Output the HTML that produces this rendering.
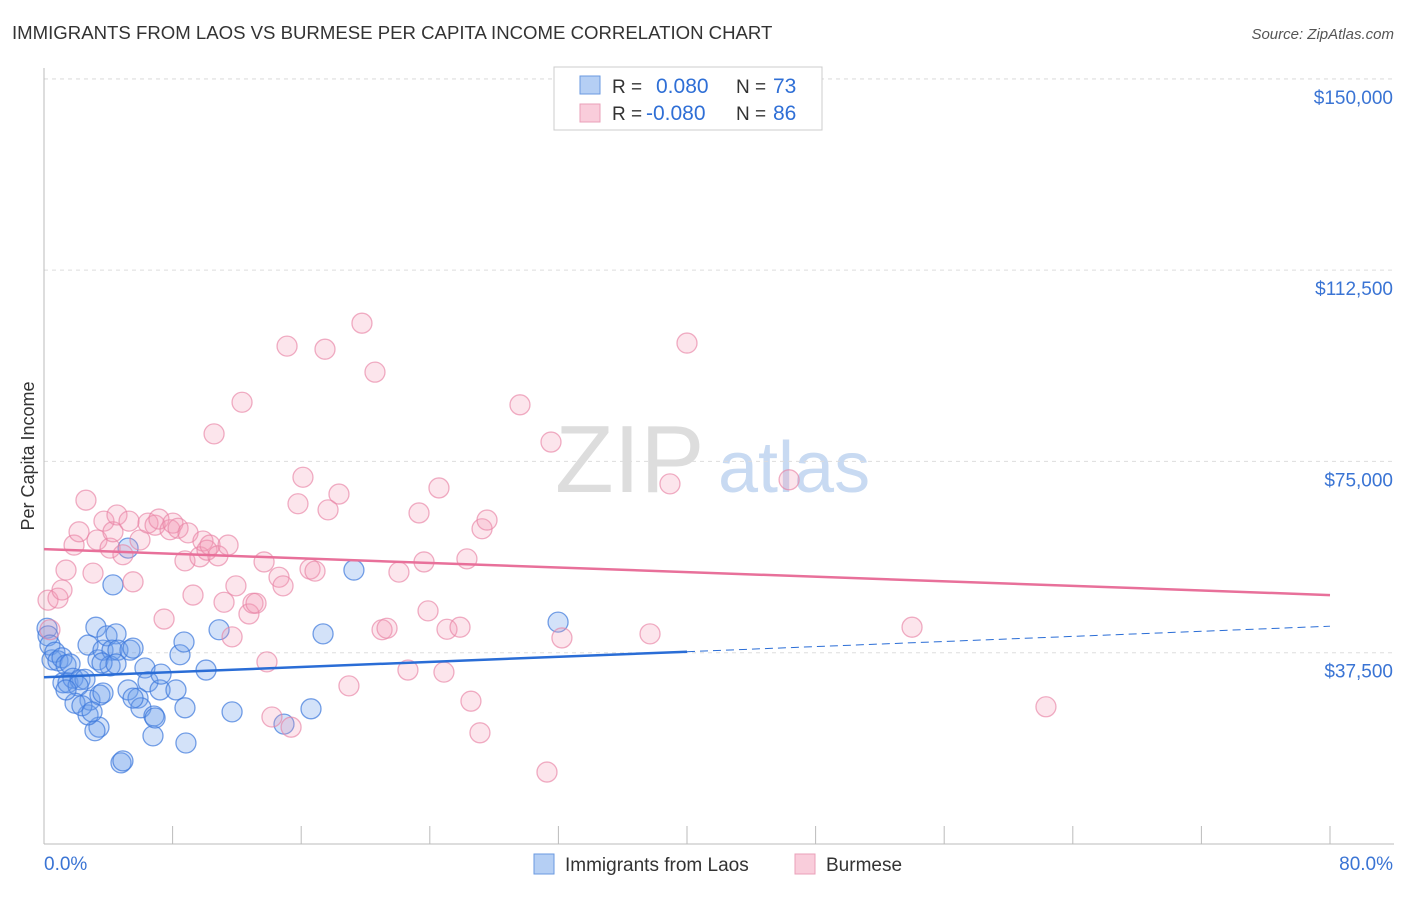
<!DOCTYPE html>
<html><head><meta charset="utf-8"><style>
body{margin:0;background:#fff;font-family:"Liberation Sans",sans-serif;}
svg text{font-family:"Liberation Sans",sans-serif;}
</style></head><body>
<svg id="chart" width="1406" height="892">
<text x="12" y="39" font-size="18.6" fill="#333">IMMIGRANTS FROM LAOS VS BURMESE PER CAPITA INCOME CORRELATION CHART</text>
<text x="1394" y="39" font-size="15" fill="#555" font-style="italic" text-anchor="end">Source: ZipAtlas.com</text>
<text x="34" y="456" font-size="18" fill="#333" transform="rotate(-90 34 456)" text-anchor="middle">Per Capita Income</text>
<text x="555" y="492" font-size="96" fill="#ddd" font-family="Liberation Serif">ZIP</text>
<text x="718" y="492" font-size="72" fill="#c8daf2">atlas</text>
<g id="grid"></g><g id="axes"></g><g id="pts"></g><g id="trends"></g>
<g>
<rect x="554" y="67" width="268" height="63" fill="#fff" stroke="#ccc"/>
<rect x="580" y="76" width="20" height="18" fill="#b5cff4" stroke="#6a9ae0"/>
<rect x="580" y="104" width="20" height="18" fill="#f9cddb" stroke="#eaa0b8"/>
<text x="612" y="93" font-size="19" fill="#333">R = </text><text x="656" y="93" font-size="21" fill="#2f6fd6">0.080</text>
<text x="736" y="93" font-size="19" fill="#333">N = </text><text x="773" y="93" font-size="21" fill="#2f6fd6">73</text>
<text x="612" y="120" font-size="19" fill="#333">R = </text><text x="646" y="120" font-size="21" fill="#2f6fd6">-0.080</text>
<text x="736" y="120" font-size="19" fill="#333">N = </text><text x="773" y="120" font-size="21" fill="#2f6fd6">86</text>
</g>
<g>
<rect x="534" y="854" width="20" height="20" fill="#b5cff4" stroke="#6a9ae0"/>
<text x="565" y="871" font-size="19" fill="#333">Immigrants from Laos</text>
<rect x="795" y="854" width="20" height="20" fill="#f9cddb" stroke="#eaa0b8"/>
<text x="826" y="871" font-size="19" fill="#333">Burmese</text>
</g>
</svg>
<script>
const yTicks=[37500,75000,112500,150000];
const yTickLabels=["$37,500","$75,000","$112,500","$150,000"];
const xTickLabels=["0.0%","80.0%"];
const laosX=[0.19,0.25,0.37,0.50,0.68,0.87,1.12,1.37,1.62,1.18,1.49,1.80,2.24,2.55,2.12,2.74,3.23,3.36,3.67,3.92,4.48,4.23,4.11,4.60,5.35,5.54,4.29,5.23,6.28,6.47,7.22,7.28,8.21,8.46,8.71,8.77,10.08,10.89,11.70,14.93,16.61,17.36,19.28,31.98,4.79,4.91,3.42,3.17,2.74,2.86,1.93,2.36,3.48,3.67,5.23,5.85,6.03,6.84,6.78,8.83,3.61,4.48,5.54,6.91,1.37,2.99];
const laosY=[42.3,40.8,39.0,36.1,37.6,35.9,36.5,35.1,35.3,31.6,31.6,32.5,32.2,32.3,31.0,39.0,42.5,36.1,38.0,40.8,41.2,38.0,34.9,38.0,38.0,38.4,50.8,58.0,34.5,31.8,30.2,33.3,30.2,37.1,39.6,26.7,34.1,42.0,25.9,23.5,26.5,41.2,53.7,43.5,15.9,16.3,22.9,22.2,25.3,28.2,27.6,27.1,29.2,29.6,30.2,28.6,26.7,25.1,21.2,19.8,35.5,35.3,28.6,24.7,30.2,25.9];
const burX=[0.25,0.87,1.12,1.37,1.87,2.18,2.61,3.05,3.30,3.73,4.11,4.29,4.54,4.91,5.29,5.54,5.97,6.47,6.91,7.15,7.47,7.84,8.02,8.34,8.77,8.96,9.27,9.70,9.89,10.14,10.33,10.58,10.82,11.20,11.45,11.70,11.94,12.32,12.75,13.00,13.19,13.69,13.87,14.18,14.62,14.87,15.12,15.37,15.80,16.11,16.55,16.86,17.48,17.67,18.35,18.97,19.78,20.59,21.03,21.34,22.08,22.64,23.33,23.64,23.89,24.57,24.88,25.07,25.88,26.31,26.56,27.12,27.25,27.56,29.61,31.29,31.54,32.22,37.70,38.94,40.00,46.35,54.00,62.33,0.37];
const burY=[47.8,48.2,49.8,53.7,58.6,61.2,67.4,53.1,59.6,63.3,58.0,61.2,64.5,56.7,63.3,51.4,59.6,62.9,62.5,63.7,44.1,61.6,62.9,61.9,55.5,61.0,48.8,56.3,59.4,57.6,58.6,80.4,56.5,47.4,58.6,40.6,50.6,86.6,45.1,47.2,47.2,55.3,35.7,24.9,52.3,50.6,97.6,22.9,66.7,71.9,53.9,53.5,97.0,65.5,68.6,31.0,102.1,92.5,42.0,42.3,53.3,34.1,64.9,55.3,45.7,69.8,33.7,42.1,42.5,55.9,28.0,21.8,61.8,63.5,86.1,14.1,78.8,40.4,41.2,70.6,98.2,71.4,42.5,26.9,42.0];
const laosTrend=[32.7,42.7];
const burTrend=[57.8,48.8];
const NS="http://www.w3.org/2000/svg";
const X0=44,X1=1330,Y0=844,PXK=5.101;
const xs=v=>X0+(X1-X0)*v/80;
const ys=k=>Y0-k*PXK;
function mk(tag,attrs,parent){const e=document.createElementNS(NS,tag);for(const k in attrs)e.setAttribute(k,attrs[k]);document.getElementById(parent).appendChild(e);return e;}
yTicks.forEach((t,i)=>{
  const y=ys(t/1000);
  const g=mk('line',{x1:X0,x2:1394,y1:y,y2:y,stroke:'#ddd','stroke-dasharray':'4,4'},'grid');
  
  
  const tx=mk('text',{x:1393,y:y+25,'font-size':19,fill:'#3a74d4','text-anchor':'end'},'axes');
  tx.textContent=yTickLabels[i];
  
  
});
const topGrid=mk('line',{x1:X0,x2:1394,y1:79,y2:79,stroke:'#ddd','stroke-dasharray':'4,4'},'grid');


const ax=mk('line',{x1:X0,x2:X0,y1:68,y2:Y0,stroke:'#bbb'},'axes');


const bx=mk('line',{x1:X0,x2:1394,y1:Y0,y2:Y0,stroke:'#bbb'},'axes');


for(let i=0;i<=10;i++){const x=xs(i*8);const t=mk('line',{x1:x,x2:x,y1:Y0-18,y2:Y0,stroke:'#bbb'},'axes');

}
const l0=mk('text',{x:44,y:870,'font-size':19,fill:'#3a74d4'},'axes');l0.textContent=xTickLabels[0];


const l1=mk('text',{x:1393,y:870,'font-size':19,fill:'#3a74d4','text-anchor':'end'},'axes');l1.textContent=xTickLabels[1];


laosX.forEach((v,i)=>{const c=mk('circle',{cx:xs(v),cy:ys(laosY[i]),r:10,fill:'rgba(110,160,235,0.3)',stroke:'rgba(60,120,220,0.7)','stroke-width':1.3},'pts');

});
burX.forEach((v,i)=>{const c=mk('circle',{cx:xs(v),cy:ys(burY[i]),r:10,fill:'rgba(245,150,180,0.25)',stroke:'rgba(232,130,165,0.65)','stroke-width':1.3},'pts');

});
const mid=laosTrend[0]+(laosTrend[1]-laosTrend[0])*0.5;
const t1=mk('line',{x1:xs(0),y1:ys(laosTrend[0]),x2:xs(40),y2:ys(mid),stroke:'#2a6dd6','stroke-width':2.5},'trends');


const t2=mk('line',{x1:xs(40),y1:ys(mid),x2:xs(80),y2:ys(laosTrend[1]),stroke:'#2a6dd6','stroke-width':1,'stroke-dasharray':'8,5'},'trends');


const t3=mk('line',{x1:xs(0),y1:ys(burTrend[0]),x2:xs(80),y2:ys(burTrend[1]),stroke:'#e8709a','stroke-width':2.5},'trends');


</script>
</body></html>
